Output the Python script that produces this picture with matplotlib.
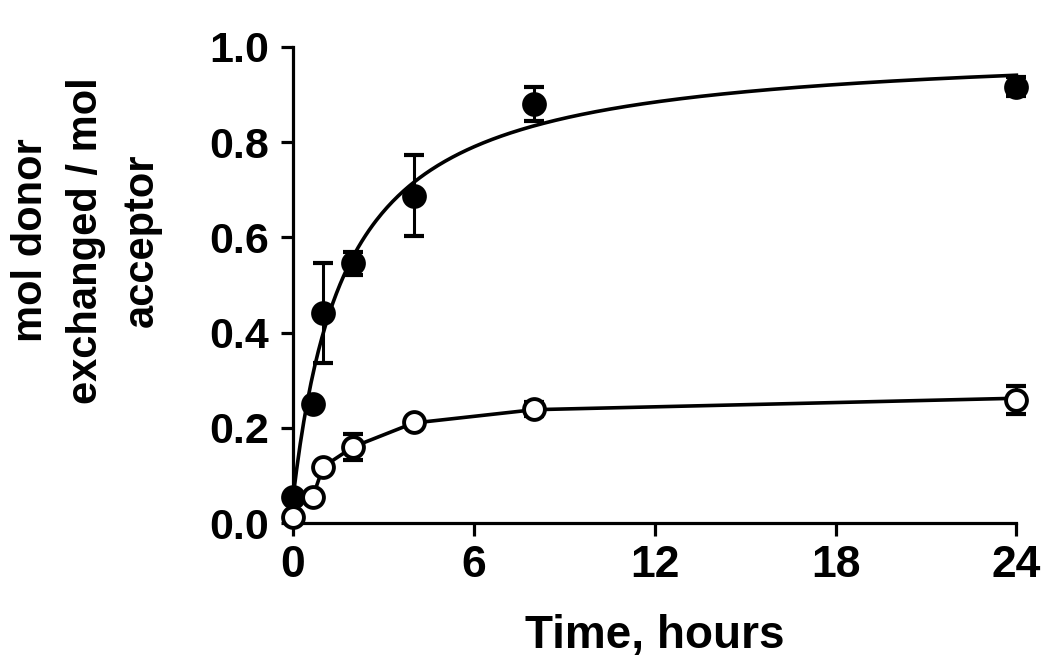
import matplotlib
matplotlib.use("Agg")
import matplotlib.pyplot as plt
import numpy as np

plt.rcParams['font.family'] = ['Liberation Sans', 'DejaVu Sans']
plt.rcParams['font.weight'] = 'bold'

# data
time_h = [0, 0.67, 1, 2, 4, 8, 24]
filled_y = [0.055, 0.25, 0.44, 0.545, 0.687, 0.88, 0.916]
filled_err = [0.0, 0.0, 0.105, 0.025, 0.085, 0.035, 0.02]
open_y = [0.013, 0.055, 0.118, 0.16, 0.212, 0.24, 0.258]
open_err = [0.0, 0.0, 0.0, 0.027, 0.008, 0.015, 0.03]

# hyperbolic fit parameters (y0 + Bmax*t/(K+t))
filled_fit = dict(y0=0.05, bmax=0.955, k=1.745)
open_curve_t = [0, 0.67, 1, 2, 4, 8, 24]
open_curve_y = [0.05, 0.057, 0.118, 0.16, 0.21, 0.238, 0.262]

xticks = [0, 6, 12, 18, 24]
yticks = [0.0, 0.2, 0.4, 0.6, 0.8, 1.0]

fig = plt.figure(figsize=(10.5, 6.68), dpi=100)
ax = fig.add_axes([0.279, 0.217, 0.689, 0.713])

t = np.linspace(0, 24, 400)
f = filled_fit
ax.plot(t, f['y0'] + f['bmax'] * t / (f['k'] + t), color='black', lw=2.6, clip_on=False)
ax.plot(open_curve_t, open_curve_y, color='black', lw=2.6, clip_on=False)


def err_and_points(y, err, face, z):
    x = np.array(time_h)
    y = np.array(y)
    e = np.array(err)
    m = e > 0
    ax.errorbar(x[m], y[m], yerr=e[m], fmt='none', ecolor='black', elinewidth=2.2,
                capsize=7, capthick=3, clip_on=False, zorder=z)
    ax.plot(x, y, 'o', ms=15, mfc=face, mec='black', mew=2.8, clip_on=False,
            zorder=z + 0.5)


err_and_points(filled_y, filled_err, 'black', 3)
err_and_points(open_y, open_err, 'white', 4)

ax.set_xlim(0, 24)
ax.set_ylim(0, 1.0)
ax.set_xticks(xticks)
ax.set_yticks(yticks)
ax.set_yticklabels([f"{v:.1f}" for v in yticks], fontsize=31, fontweight='bold')
ax.set_xticklabels([str(v) for v in xticks], fontsize=32, fontweight='bold')

for s in ['top', 'right']:
    ax.spines[s].set_visible(False)
for s in ['left', 'bottom']:
    ax.spines[s].set_linewidth(2.3)
ax.tick_params(axis='both', direction='out', length=9, width=2.3)
ax.tick_params(axis='y', pad=8)
ax.tick_params(axis='x', pad=7)

ax.set_xlabel("Time, hours", fontsize=33, fontweight='bold', labelpad=20)
fig.text(0.082, 0.64, "mol donor\nexchanged / mol\nacceptor", rotation=90,
         ha='center', va='center', multialignment='center', fontsize=30,
         fontweight='bold', linespacing=1.5)

fig.savefig("out.png", dpi=100, facecolor='white')
